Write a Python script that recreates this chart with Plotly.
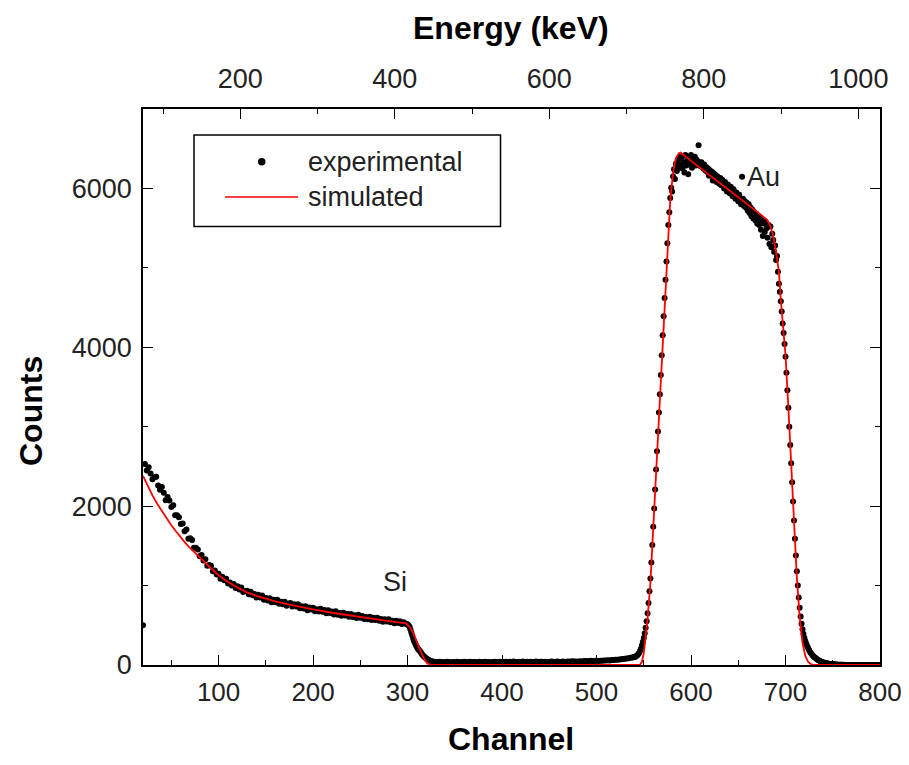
import plotly.graph_objects as go

# ---------------- data ----------------
# experimental spectrum, given in segments: (first channel, channel step, counts)
exp_a_start, exp_a_step = 20, 2
exp_a = [500, 2530, 2450, 2490, 2410, 2340, 2365, 2370, 2260, 2205,
         2240, 2170, 2075, 2115, 2070, 1990, 2010, 1885, 1885, 1860,
         1775, 1780, 1685, 1705, 1590, 1595, 1575, 1475, 1475, 1455,
         1370, 1385, 1315, 1330, 1250, 1260, 1250, 1180, 1190, 1140,
         1150, 1085, 1110, 1068, 1085, 1025, 1040, 1000, 1020, 968,
         990, 952, 975, 918, 931, 935, 891, 922, 878, 894,
         850, 883, 851, 874, 822, 845, 813, 841, 789, 822,
         790, 820, 770, 795, 765, 795, 745, 770, 780, 735,
         765, 735, 765, 715, 740, 710, 740, 690, 725, 700,
         720, 676, 702, 673, 709, 670, 691, 652, 688, 654,
         675, 636, 677, 633, 654, 621, 657, 623, 644, 606,
         642, 604, 625, 592, 633, 595, 617, 578, 605, 576,
         608, 565, 596, 568, 595, 556, 578, 545, 576, 548,
         575, 537, 558, 525, 557, 528, 550, 517, 538, 520]

exp_b_start, exp_b_step = 299, 1
exp_b = [515, 510, 500, 480, 450, 410, 370, 330, 300, 270,
         245, 225, 205, 190, 175, 160, 140, 125, 110, 100,
         90, 80, 72, 65, 58, 52, 48, 45, 42, 40, 38, 37]

exp_c_start, exp_c_step = 332, 2
exp_c = [36, 40, 34, 38, 35, 41, 37, 33, 39, 36, 42, 35, 38, 34, 40, 37, 36, 41,
         35, 39, 38, 34, 40, 36, 37, 42, 35, 39, 36, 38, 41, 35, 37, 40, 36,
         38, 42, 36, 40, 37, 43, 39, 35, 41, 38, 44, 37, 40, 36, 42, 39, 38,
         43, 37, 41, 40, 36, 42, 39, 38, 44, 40, 37, 43, 41, 39, 45, 40, 42, 44,
         41, 46, 43, 45, 42, 48, 44, 47, 50, 46, 49, 52, 48, 51, 54, 50, 55,
         53, 57, 56, 60, 58, 63, 62, 66, 65, 70, 72, 75, 78, 82, 85, 90, 93]

exp_d_start, exp_d_step = 539, 1
exp_d = [96, 100, 105, 112, 120, 135, 150, 175, 205, 245,
         290, 340, 400, 470, 550, 650, 780, 930, 1090, 1290,
         1510, 1740, 1970, 2210, 2460, 2690, 2940, 3180, 3410, 3650,
         3900, 4150, 4390, 4620, 4850, 5080, 5310, 5540, 5700, 5880,
         6010, 5960, 6150, 6240, 6120, 6310, 6220, 6360, 6260, 6400, 6300,
         # plateau 590 - 692
         6380, 6250, 6330, 6200, 6420, 6290, 6350, 6180, 6400, 6310,
         6420, 6260, 6380, 6330, 6400, 6290, 6360, 6300, 6545, 6330,
         6280, 6330, 6290, 6250, 6300, 6230, 6270, 6210, 6250, 6160,
         6230, 6180, 6210, 6100, 6190, 6140, 6170, 6080, 6150, 6120,
         6060, 6130, 6040, 6110, 6070, 6000, 6080, 6030, 5960, 6050,
         5990, 5940, 6020, 5970, 5900, 5990, 5930, 5870, 5950, 5900,
         5840, 5920, 5860, 5800, 6146, 5870, 5780, 5840, 5760, 5820,
         5720, 5800, 5690, 5760, 5650, 5730, 5620, 5700, 5600, 5680,
         5560, 5650, 5540, 5620, 5480, 5600, 5400, 5560, 5450, 5580,
         5500, 5380, 5540, 5300, 5520, 5260, 5430, 5350, 5200, 5280,
         5100, 5150, 4950,
         # falling edge 693 - 760
         4800, 4700, 4580, 4450, 4300, 4180, 4040, 3880, 3680, 3460,
         3240, 3000, 2770, 2540, 2300, 2060, 1820, 1590, 1380, 1180,
         1000, 850, 720, 610, 520, 450, 390, 340, 300, 265,
         235, 210, 185, 165, 148, 132, 118, 105, 94, 84,
         75, 67, 60, 53, 47, 42, 37, 33, 29, 26,
         23, 20, 18, 16, 14, 12, 10, 9, 8, 7,
         6, 5, 4, 4, 3, 3, 2, 2]

exp_e_start, exp_e_step = 762, 2
exp_e = [2, 1, 1, 0, 1, 0, 0, 1, 0, 0, 0, 0, 1, 0, 0, 0, 0, 0, 0, 0]

# simulated spectrum
sim_channel = [20, 25, 30, 35, 40, 45, 50, 55, 60, 65, 70, 80, 90, 100, 110, 120, 130,
               140, 150, 160, 170, 180, 190, 200, 220, 240, 260, 280, 290, 298,
               300, 303, 306, 309, 312, 315, 318, 321, 324, 327, 330,
               546, 548, 550, 552, 554, 557, 560, 563, 566, 569, 572, 575,
               578, 581, 584, 587, 589, 600, 620, 640, 660, 680, 684, 687,
               690, 693, 695, 697, 700, 703, 706, 709, 712, 715, 718, 721,
               724, 727, 730, 800]
sim_counts = [2380, 2250, 2135, 2030, 1935, 1845, 1760, 1680, 1605, 1535, 1470, 1350,
              1240, 1130, 1045, 975, 915,
              870, 833, 800, 773, 748, 723, 700, 658, 620, 586, 553, 538, 527,
              505, 470, 400, 310, 220, 140, 70, 20, 5, 0, 0,
              0, 40, 150, 330, 580, 1034, 1740, 2460, 3180, 3900, 4620, 5300,
              5850, 6200, 6380, 6440, 6452, 6347, 6163, 5979, 5795, 5612, 5527, 5401,
              5200, 4950, 4600, 4300, 3900, 3250, 2550, 1800, 1100, 600, 280, 110,
              40, 10, 0, 0]

x_ticks = [100, 200, 300, 400, 500, 600, 700, 800]
y_ticks = [0, 2000, 4000, 6000]
energy_ticks = [200, 400, 600, 800, 1000]
channel_range = [20, 800]
energy_range = [74, 1028]
count_range = [0, 7000]


def seg(start, step, vals):
    return [start + i * step for i in range(len(vals))]


exp_channel = (seg(exp_a_start, exp_a_step, exp_a) + seg(exp_b_start, exp_b_step, exp_b)
               + seg(exp_c_start, exp_c_step, exp_c) + seg(exp_d_start, exp_d_step, exp_d)
               + seg(exp_e_start, exp_e_step, exp_e))
exp_counts = exp_a + exp_b + exp_c + exp_d + exp_e

# ---------------- figure ----------------
OFF = 8  # page body margin
W, H = 893, 749
L, R, T, B = 135, 21, 101, 92
PW, PH = W - L - R, H - T - B
FONT = "Liberation Sans, Arial, sans-serif"
TXT = "#222222"


def px(xs):
    return (xs - OFF - L) / PW


def py(ys):
    return (OFF + H - B - ys) / PH


fig = go.Figure()
fig.add_trace(go.Scatter(x=exp_channel, y=exp_counts, mode="markers",
                         marker=dict(color="black", size=6, line=dict(width=0)),
                         showlegend=False, hoverinfo="skip"))
fig.add_trace(go.Scatter(x=sim_channel, y=sim_counts, mode="lines",
                         line=dict(color="#ff0000", width=1.8),
                         showlegend=False, hoverinfo="skip"))
fig.add_trace(go.Scatter(x=[], y=[], xaxis="x2", yaxis="y", showlegend=False))

axis_common = dict(showline=True, linecolor="black", linewidth=1.5, ticks="inside",
                   ticklen=10, tickwidth=1.3, tickcolor="black", showgrid=False,
                   zeroline=False, ticklabeloverflow="allow", automargin=False)
tick_font = dict(family=FONT, size=27, color=TXT)

fig.update_layout(
    width=W, height=H,
    margin=dict(l=L, r=R, t=T, b=B, autoexpand=False),
    paper_bgcolor="white", plot_bgcolor="white",
    font=dict(family=FONT, color="black"),
    xaxis=dict(range=channel_range, tickvals=x_ticks, mirror=True,
               ticklabelstandoff=3, tickfont=dict(family=FONT, size=26, color=TXT),
               minor=dict(ticks="inside", ticklen=5, tickwidth=1.3, dtick=50, tick0=0,
                          tickcolor="black"),
               **axis_common),
    xaxis2=dict(range=energy_range, tickvals=energy_ticks, overlaying="x", side="top",
                anchor="y", ticklabelstandoff=8, tickfont=tick_font,
                minor=dict(ticks="inside", ticklen=5, tickwidth=1.3, dtick=100, tick0=0,
                           tickcolor="black"),
                **axis_common),
    yaxis=dict(range=count_range, tickvals=y_ticks, mirror="ticks",
               ticklabelstandoff=4, tickfont=tick_font,
               minor=dict(ticks="inside", ticklen=5, tickwidth=1.3, dtick=1000, tick0=0,
                          tickcolor="black"),
               **axis_common),
)

title_font = dict(family=FONT, size=32, color="black")
label_font = dict(family=FONT, size=27, color=TXT)
annotations = [
    dict(text="<b>Channel</b>", x=px(511), y=py(739), xref="paper", yref="paper",
         showarrow=False, font=title_font, xanchor="center", yanchor="middle"),
    dict(text="<b>Energy (keV)</b>", x=px(511), y=py(28), xref="paper", yref="paper",
         showarrow=False, font=title_font, xanchor="center", yanchor="middle"),
    dict(text="<b>Counts</b>", x=px(31), y=py(411), xref="paper", yref="paper",
         showarrow=False, font=title_font, textangle=-90, xanchor="center", yanchor="middle"),
    dict(text="Si", x=287, y=1040, xref="x", yref="y", showarrow=False, font=label_font),
    dict(text="Au", x=677, y=6150, xref="x", yref="y", showarrow=False, font=label_font),
    dict(text="experimental", x=px(306), y=py(162), xref="paper", yref="paper",
         showarrow=False, xanchor="left", yanchor="middle", font=label_font),
    dict(text="simulated", x=px(306), y=py(197), xref="paper", yref="paper",
         showarrow=False, xanchor="left", yanchor="middle", font=label_font),
]
fig.update_layout(annotations=annotations)

shapes = [
    dict(type="rect", xref="paper", yref="paper", x0=px(194), x1=px(500.5),
         y0=py(135), y1=py(226.5), line=dict(color="black", width=1.5),
         fillcolor="white", layer="above"),
    dict(type="circle", xref="paper", yref="paper", x0=px(258), x1=px(265.5),
         y0=py(158), y1=py(165.5), line=dict(width=0), fillcolor="black", layer="above"),
    dict(type="line", xref="paper", yref="paper", x0=px(225), x1=px(298),
         y0=py(197), y1=py(197), line=dict(color="#ff0000", width=1.5), layer="above"),
]
fig.update_layout(shapes=shapes)

fig.write_html("out.html")
